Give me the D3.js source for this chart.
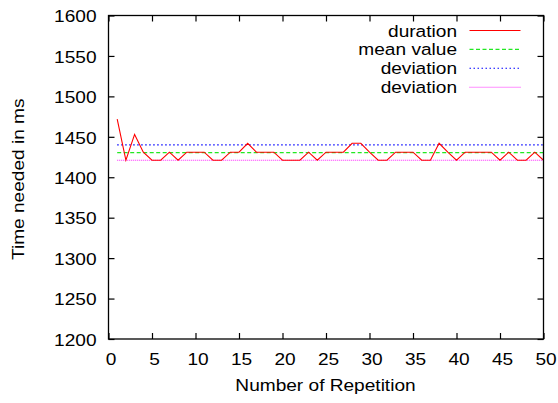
<!DOCTYPE html>
<html>
<head>
<meta charset="utf-8">
<script src="https://cdn.jsdelivr.net/npm/d3@7"></script>
<style>
  html, body { margin: 0; padding: 0; background: #fff; }
  svg text { font-family: "Liberation Sans", Arial, Helvetica, sans-serif; fill: #000; }
</style>
</head>
<body>
<svg id="chart" width="558" height="403"></svg>
<script>
// Repetition index and measured time for each run (ms)
const repetitions = d3.range(1, 51);
const durations = [
  1472, 1421, 1453, 1431, 1421, 1421, 1431, 1421, 1431, 1431,
  1431, 1421, 1421, 1431, 1431, 1442, 1431, 1431, 1431, 1421,
  1421, 1421, 1431, 1421, 1431, 1431, 1431, 1442, 1442, 1431,
  1421, 1421, 1431, 1431, 1431, 1421, 1421, 1442, 1431, 1421,
  1431, 1431, 1431, 1431, 1421, 1431, 1421, 1421, 1431, 1421
];
const meanValue = 1430.5;
const deviationUpper = 1440;
const deviationLower = 1421;

const xTicks = [0, 5, 10, 15, 20, 25, 30, 35, 40, 45, 50];
const yTicks = [1200, 1250, 1300, 1350, 1400, 1450, 1500, 1550, 1600];

const legendLabels = ["duration", "mean value", "deviation", "deviation"];

const svg = d3.select("#chart");
const plotLeft = 108.5, plotRight = 543.5, plotTop = 15.5, plotBottom = 339;
const fontSize = 17.2;
const stretch = 1.11;   // wide glyph rendering of the terminal font

const x = d3.scaleLinear().domain([0, 50]).range([plotLeft, plotRight]);
const y = d3.scaleLinear().domain([1200, 1600]).range([plotBottom, plotTop]);

// Series definitions: colour and dash style
const series = [
  { label: legendLabels[0], color: "#ff0000", dash: null, values: durations },
  { label: legendLabels[1], color: "#22e822", dash: "4,2.5", values: repetitions.map(() => meanValue) },
  { label: legendLabels[2], color: "#0000ff", dash: "1.5,2.5", values: repetitions.map(() => deviationUpper) },
  { label: legendLabels[3], color: "#ff22ff", dash: "1,1", values: repetitions.map(() => deviationLower) }
];

const line = d3.line()
  .x((d, i) => x(repetitions[i]))
  .y(d => y(d));

// Horizontal reference lines first, then the measured curve on top
series.slice(1).concat(series.slice(0, 1)).forEach(s => {
  svg.append("path")
    .attr("d", line(s.values))
    .attr("fill", "none")
    .attr("stroke", s.color)
    .attr("stroke-width", 1.1)
    .attr("stroke-dasharray", s.dash);
});

// Axes with inward ticks, mirrored on top and right
const tickLen = 6;
const leftPad = 12;
const axisBottom = d3.axisBottom(x).tickValues(xTicks).tickSize(-tickLen).tickPadding(14).tickFormat(d3.format("d"));
const axisTop = d3.axisTop(x).tickValues(xTicks).tickSize(-tickLen).tickFormat("");
const axisLeft = d3.axisLeft(y).tickValues(yTicks).tickSize(-tickLen).tickPadding(leftPad).tickFormat(d3.format("d"));
const axisRight = d3.axisRight(y).tickValues(yTicks).tickSize(-tickLen).tickFormat("");

function styleAxis(g) {
  g.select(".domain").remove();
  g.selectAll(".tick line").attr("stroke", "#000").attr("stroke-width", 1.2);
  g.selectAll("text").attr("font-size", fontSize).attr("font-family", null);
}

svg.append("g").attr("transform", `translate(0,${plotBottom})`).call(axisBottom).call(styleAxis)
  .selectAll("text").attr("x", 2 / stretch).attr("transform", `scale(${stretch},1)`);
svg.append("g").attr("transform", `translate(0,${plotTop})`).call(axisTop).call(styleAxis);
svg.append("g").attr("transform", `translate(${plotLeft},0)`).call(axisLeft).call(styleAxis)
  .selectAll("text").attr("dy", "0.36em").attr("x", -leftPad / stretch).attr("transform", `scale(${stretch},1)`);
svg.append("g").attr("transform", `translate(${plotRight},0)`).call(axisRight).call(styleAxis);

// Plot frame
svg.append("rect")
  .attr("x", plotLeft).attr("y", plotTop)
  .attr("width", plotRight - plotLeft).attr("height", plotBottom - plotTop)
  .attr("fill", "none").attr("stroke", "#000").attr("stroke-width", 1.3);

// Text placed at (tx, ty), stretched along its own baseline
function label(tx, ty, str, anchor, angle) {
  return svg.append("text")
    .attr("transform", `translate(${tx},${ty}) rotate(${angle || 0}) scale(${stretch},1)`)
    .attr("text-anchor", anchor).attr("font-size", fontSize)
    .text(str);
}

// Axis titles
label((plotLeft + plotRight) / 2 - 0.5, 391, "Number of Repetition", "middle");
label(24, (plotTop + plotBottom) / 2 + 2, "Time needed in ms", "middle", -90);

// Legend
series.forEach((s, i) => {
  const by = 36.5 + i * 18.9;
  label(457, by, s.label, "end");
  svg.append("line")
    .attr("x1", 469.5).attr("x2", 520.5)
    .attr("y1", by - 6).attr("y2", by - 6)
    .attr("stroke", s.color).attr("stroke-width", 1.1)
    .attr("stroke-dasharray", s.dash);
});
</script>
</body>
</html>
